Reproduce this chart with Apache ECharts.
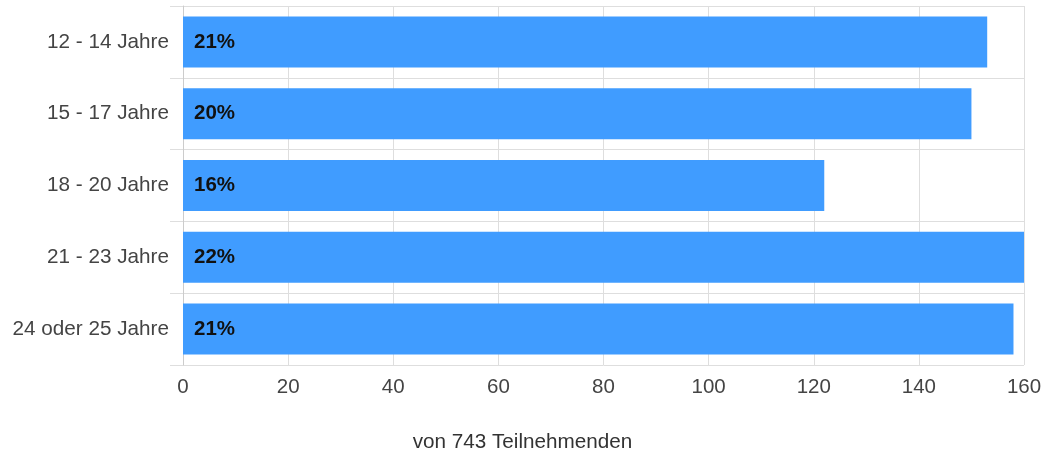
<!DOCTYPE html>
<html><head><meta charset="utf-8">
<script src="https://cdn.jsdelivr.net/npm/echarts@6/dist/echarts.min.js"></script>
<style>html,body{margin:0;padding:0;background:#fff}#c{width:1045px;height:451px}</style>
</head><body><div id="c"></div>
<script>
const categories = ["12 - 14 Jahre", "15 - 17 Jahre", "18 - 20 Jahre", "21 - 23 Jahre", "24 oder 25 Jahre"];
const values = [153, 150, 122, 160, 158];
const percentLabels = ["21%", "20%", "16%", "22%", "21%"];
const xTicks = { min: 0, max: 160, interval: 20 };
const axisTitle = "von 743 Teilnehmenden";

const FONT = '"Liberation Sans", Arial, sans-serif';
const chart = echarts.init(document.getElementById('c'), null, { renderer: 'canvas' });
chart.setOption({
  animation: false,
  textStyle: { fontFamily: FONT },
  title: {
    text: axisTitle, left: 'center', top: 427,
    textStyle: { fontFamily: FONT, fontSize: 20.7, fontWeight: 'normal', color: '#333' }
  },
  grid: { left: 183, right: 21, top: 6, bottom: 86, containLabel: false },
  xAxis: {
    type: 'value', min: xTicks.min, max: xTicks.max, interval: xTicks.interval,
    axisLine: { show: false },
    axisTick: { show: false },
    splitLine: { show: true, lineStyle: { color: '#dedede', width: 1 } },
    axisLabel: { fontSize: 20.5, color: '#444', margin: 12, fontFamily: FONT }
  },
  yAxis: {
    type: 'category', data: categories, inverse: true,
    axisLine: { show: true, lineStyle: { color: '#cccccc' } },
    axisTick: { show: true, length: 13, lineStyle: { color: '#dedede' } },
    splitLine: { show: true, lineStyle: { color: '#dedede' } },
    axisLabel: { fontSize: 20.7, color: '#444', margin: 14, fontFamily: FONT }
  },
  series: [{
    type: 'bar', data: values, barWidth: 51,
    itemStyle: { color: '#409cff' },
    label: {
      show: true, position: 'insideLeft', distance: 11,
      formatter: p => percentLabels[p.dataIndex],
      fontSize: 20.5, fontWeight: 'bold', color: '#111', fontFamily: FONT
    }
  }]
});
</script></body></html>
